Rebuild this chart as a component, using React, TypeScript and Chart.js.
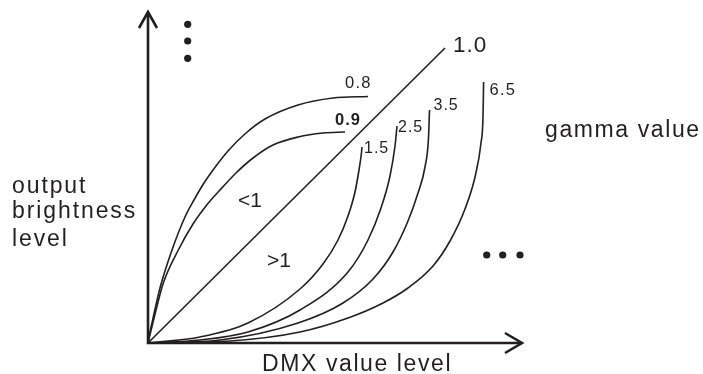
import React, { useEffect, useRef } from "react";
import { Chart, registerables } from "chart.js";

Chart.register(...registerables);

// Gamma curves: x = DMX value level, y = output brightness level
const gamma08X = [0, 2, 5.3, 12, 24, 37, 46, 56, 68, 80, 98, 117, 150, 185, 220];
const gamma08Y = [0, 11, 26, 55, 93, 126, 143, 160, 177, 192, 210, 224, 238, 245, 246.5];

const gamma09X = [0, 2.5, 6.3, 15.3, 30.3, 45, 58, 72, 88, 105, 125, 150, 175, 197];
const gamma09Y = [0, 10.5, 26, 60, 93, 119, 137, 153, 170, 185, 198, 206, 210, 211];

const gamma10X = [0, 297];
const gamma10Y = [0, 295];

const gamma15X = [0, 52, 100, 152, 175, 190, 200, 207, 211, 213.2, 214];
const gamma15Y = [0, 6, 20, 54, 79, 103, 127, 151, 173, 188, 196];

const gamma25X = [0, 52, 100, 152, 200, 220, 233, 242, 247, 249];
const gamma25Y = [0, 3, 11, 33, 71, 103, 135, 167, 197, 217];

const gamma35X = [0, 72, 150, 195, 225, 245, 260, 270, 277, 280.5, 281.5];
const gamma35Y = [0, 3, 20, 40, 64, 91, 122, 150, 176, 205, 233];

const gamma65X = [0, 82, 152, 200, 235, 260, 285, 302, 317, 327, 333, 335, 335.6];
const gamma65Y = [0, 2, 11, 25, 40, 55, 77, 102, 134, 166, 200, 226, 261];

const gammaLabels = ["0.8", "0.9", "1.0", "1.5", "2.5", "3.5", "6.5"];

const vDotsX = [39.7, 39.7, 39.7];
const vDotsY = [318.7, 302, 284.7];
const hDotsX = [338.7, 354.7, 372];
const hDotsY = [88, 88, 88];

const xMax = 374;
const yMax = 331;

const INK = "#231f20";

function pts(xs: number[], ys: number[]) {
  return xs.map((x, i) => ({ x, y: ys[i] }));
}

const decorPlugin = {
  id: "decor",
  beforeDatasetsDraw(chart: any) {
    const { ctx, chartArea } = chart;
    const { left, right, top, bottom } = chartArea;
    ctx.save();
    ctx.strokeStyle = INK;
    ctx.lineWidth = 2.6;
    ctx.lineCap = "butt";
    ctx.lineJoin = "miter";
    ctx.beginPath();
    ctx.moveTo(left, top + 1);
    ctx.lineTo(left, bottom);
    ctx.lineTo(right - 1, bottom);
    ctx.stroke();
    ctx.beginPath();
    ctx.moveTo(left - 9, top + 16);
    ctx.lineTo(left, top);
    ctx.lineTo(left + 9, top + 16);
    ctx.stroke();
    ctx.beginPath();
    ctx.moveTo(right - 17, bottom - 10);
    ctx.lineTo(right, bottom);
    ctx.lineTo(right - 17, bottom + 10);
    ctx.stroke();
    ctx.restore();
  },
  afterDatasetsDraw(chart: any) {
    const { ctx } = chart;
    const xs = chart.scales.x;
    const ys = chart.scales.y;
    const px = (v: number) => xs.getPixelForValue(v);
    const py = (v: number) => ys.getPixelForValue(v);
    ctx.save();
    ctx.fillStyle = INK;
    ctx.textBaseline = "alphabetic";
    ctx.textAlign = "left";
    const put = (t: string, x: number, y: number, font: string, ls: string) => {
      ctx.font = font;
      (ctx as any).letterSpacing = ls;
      ctx.fillText(t, x, y);
    };
    const F = "'Liberation Sans', Arial, sans-serif";
    const ends: [number[], number[]][] = [
      [gamma08X, gamma08Y],
      [gamma09X, gamma09Y],
      [gamma10X, gamma10Y],
      [gamma15X, gamma15Y],
      [gamma25X, gamma25Y],
      [gamma35X, gamma35Y],
      [gamma65X, gamma65Y],
    ];
    const offs = [
      [-23, -8.5, "normal", 16.5, "1.2px"],
      [-10, -7, "bold", 16.5, "1px"],
      [8, 4, "normal", 22.5, "1px"],
      [2, 6, "normal", 16, "1px"],
      [1, 6, "normal", 16, "1px"],
      [4, 0, "normal", 16, "1px"],
      [6, 13, "normal", 16.5, "1.2px"],
    ] as any[];
    gammaLabels.forEach((lab, i) => {
      const [X, Y] = ends[i];
      const ex = px(X[X.length - 1]);
      const ey = py(Y[Y.length - 1]);
      const o = offs[i];
      put(lab, ex + o[0], ey + o[1], `${o[2]} ${o[3]}px ${F}`, o[4]);
    });
    put("<1", 238, 207, `21px ${F}`, "0px");
    put(">1", 267, 267, `21px ${F}`, "0px");
    put("output", 12, 193, `23px ${F}`, "1.9px");
    put("brightness", 12, 218, `23px ${F}`, "1.9px");
    put("level", 12, 246, `23px ${F}`, "1.9px");
    put("gamma value", 545, 137, `23px ${F}`, "1.6px");
    put("DMX value level", 262, 371, `23px ${F}`, "1.6px");
    ctx.restore();
  },
};

export default function App() {
  const ref = useRef<HTMLCanvasElement | null>(null);
  useEffect(() => {
    if (!ref.current) return;
    const curve = (xs: number[], ys: number[]) => ({
      type: "line" as const,
      data: pts(xs, ys),
      borderColor: INK,
      borderWidth: 1.6,
      pointRadius: 0,
      cubicInterpolationMode: "monotone" as const,
      fill: false,
      clip: false as any,
    });
    const dots = (xs: number[], ys: number[]) => ({
      type: "scatter" as const,
      data: pts(xs, ys),
      backgroundColor: INK,
      borderColor: INK,
      borderWidth: 0,
      pointRadius: 3.6,
      showLine: false,
      clip: false as any,
    });
    const chart = new Chart(ref.current, {
      type: "scatter",
      data: {
        datasets: [
          curve(gamma08X, gamma08Y),
          curve(gamma09X, gamma09Y),
          curve(gamma10X, gamma10Y),
          curve(gamma15X, gamma15Y),
          curve(gamma25X, gamma25Y),
          curve(gamma35X, gamma35Y),
          curve(gamma65X, gamma65Y),
          dots(vDotsX, vDotsY),
          dots(hDotsX, hDotsY),
        ] as any,
      },
      options: {
        animation: false,
        responsive: false,
        maintainAspectRatio: false,
        devicePixelRatio: 1,
        layout: { padding: { left: 148, right: 181, top: 12, bottom: 31 } },
        plugins: { legend: { display: false }, tooltip: { enabled: false } },
        events: [],
        scales: {
          x: { type: "linear", min: 0, max: xMax, display: false },
          y: { type: "linear", min: 0, max: yMax, display: false },
        },
      },
      plugins: [decorPlugin],
    });
    return () => chart.destroy();
  }, []);
  return (
    <div style={{ position: "fixed", left: 0, top: 0, width: 703, height: 374, background: "#fff" }}>
      <canvas ref={ref} width={703} height={374} style={{ width: 703, height: 374, display: "block" }} />
    </div>
  );
}
